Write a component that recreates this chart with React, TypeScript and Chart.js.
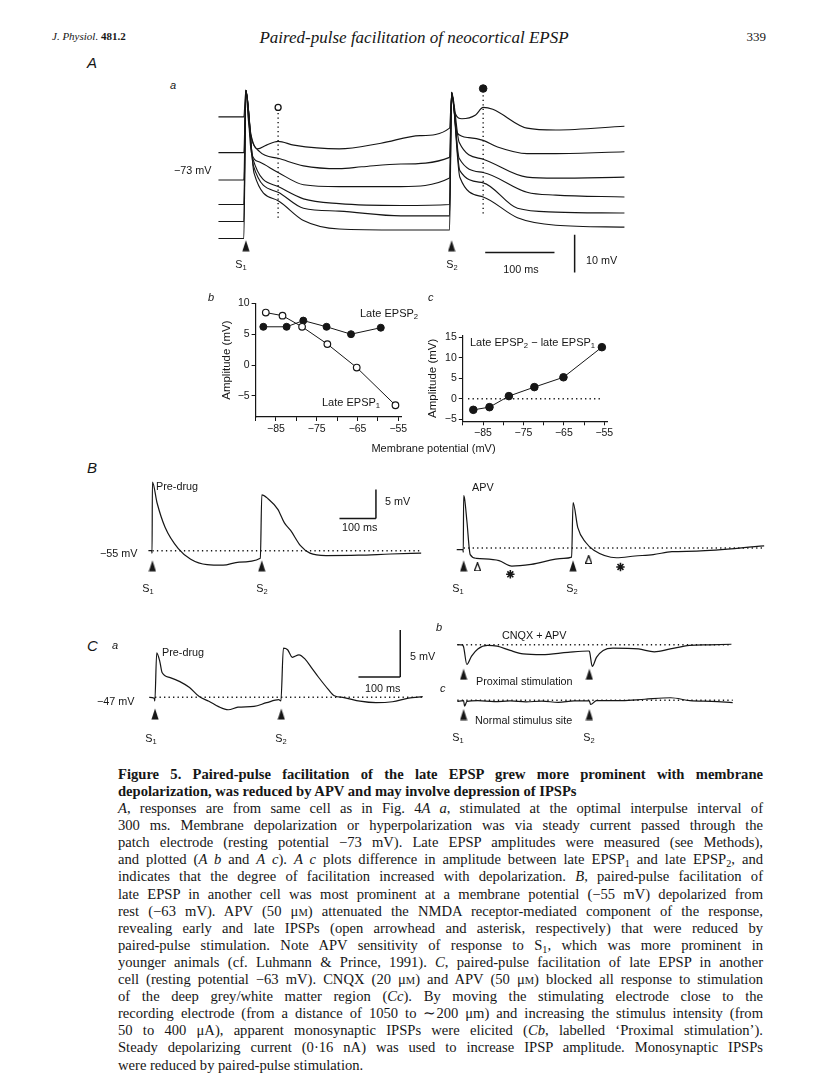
import React, { useEffect, useRef } from "react";
import { Chart, registerables } from "chart.js";
Chart.register(...registerables);

const INK = "#161616";
const SANS = "'Liberation Sans', Arial, Helvetica, sans-serif";
const SERIF = "'Liberation Serif', 'Times New Roman', serif";

type P = [number, number];

// ---------- Panel A a : six traces, time (ms from S1) vs relative potential (mV) ----------
const traceA1: P[] = [[-40, 43], [-3, 43], [0, 50], [4, 41.5], [17, 34.5], [30, 35.5], [47, 36.5], [70, 35.5], [136, 34.5], [197, 36], [254, 38], [297, 40], [300, 48.5], [305, 44], [315, 42.5], [335, 43.5], [346, 45.5], [360, 45], [410, 40], [452, 39.5], [552, 40.5]];
const traceA2: P[] = [[-40, 33.5], [-3, 33.5], [0, 50], [7, 38.75], [20, 33.75], [47, 32], [84, 30], [136, 29.25], [169, 29.75], [226, 30.5], [297, 32.25], [300, 49.25], [308, 38.75], [325, 37.5], [346, 36.75], [367, 35], [410, 33.25], [452, 33.25], [552, 33.75]];
const traceA3: P[] = [[-40, 26.25], [-3, 26.25], [0, 50], [8, 33.5], [20, 31], [47, 28.25], [84, 25], [136, 24.5], [226, 24.5], [297, 26.75], [300, 49.5], [311, 36.25], [346, 31.75], [410, 27], [452, 26.75], [552, 27]];
const traceA4: P[] = [[-40, 19.75], [-3, 19.75], [0, 50], [10, 32], [47, 24.5], [84, 21.25], [136, 20], [226, 19.5], [297, 19.75], [300, 49.5], [311, 32], [346, 28.25], [410, 23], [452, 22.25], [552, 21.75]];
const traceA5: P[] = [[-40, 15.25], [-3, 15.25], [0, 50], [11, 30], [47, 23], [84, 18.75], [136, 18], [226, 16.75], [297, 16.75], [300, 49.5], [312, 28.75], [346, 25.5], [396, 18.75], [452, 17.75], [552, 17.5]];
const traceA6: P[] = [[-40, 10.75], [-3, 10.75], [0, 50], [12, 28], [47, 20.75], [84, 15.5], [136, 13.25], [226, 13], [297, 13], [300, 49.5], [312, 27], [346, 21.75], [396, 16.25], [452, 14.25], [552, 13.75]];
const lateEPSP1Time = 47;
const lateEPSP2Time = 346;
const stimulusTimes = [0, 300];

// ---------- Panel A b ----------
const membraneEPSP1 = [-87.5, -83.4, -78.6, -72.4, -65.2, -55.7];
const lateEPSP1 = [8.5, 8.0, 6.2, 3.4, -0.4, -6.5];
const membraneEPSP2 = [-88.1, -82.4, -78.3, -72.6, -66.6, -59.3];
const lateEPSP2 = [6.2, 6.2, 7.2, 6.2, 5.0, 6.05];
// ---------- Panel A c ----------
const membraneDiff = [-87.4, -83.4, -78.6, -72.3, -65.1, -55.6];
const diffEPSP = [-2.7, -2.05, 0.65, 2.85, 5.25, 12.6];
const potentialTicks = [-90, -85, -80, -75, -70, -65, -60, -55];
const potentialLabels = [-85, -75, -65, -55];
const abTicks = [-5, 0, 5, 10];
const acTicks = [-5, 0, 5, 10, 15];

// ---------- Panel B (mV, ms from S1) ----------
const predrugB: P[] = [[-11, -55], [-2, -55], [-1, -55.45], [0, -43.06], [13, -46.74], [35, -50.96], [71, -54.64], [105, -56.48], [150, -57.43], [194, -57.53], [238, -57.0], [296, -56.33], [300, -45.27], [317, -45.95], [344, -47.8], [362, -50.17], [379, -51.48], [406, -54.12], [432, -55.43], [476, -55.85], [565, -55.79], [653, -55.58], [737, -55.43]];
const apvB: P[] = [[-19, -55.3], [-2, -55.3], [-1, -55.75], [0, -45.9], [3, -46.6], [9, -50.4], [18, -56.15], [35, -56.8], [97, -57.2], [132, -58.15], [185, -57.85], [274, -56.8], [296, -56.6], [300, -47.1], [313, -51.45], [335, -54.05], [357, -55.4], [419, -56.7], [470, -56.4], [520, -56.15], [571, -55.65], [639, -55.55], [824, -54.65]];
const earlyIPSPTimes = [38, 343];
const lateIPSPTimes = [128, 430];

// ---------- Panel C ----------
const predrugC: P[] = [[-14, -47], [-2, -47.1], [-0.5, -47.4], [4, -42.26], [11.5, -43.22], [16.7, -44.36], [36, -44.9], [59, -45.33], [82, -45.96], [105, -46.93], [128, -47.42], [151, -48.0], [174, -48.33], [197, -48.06], [235, -47.97], [265, -47.58], [294, -47.26], [299, -47.4], [305, -41.77], [315, -41.94], [326, -42.74], [342, -42.48], [357, -42.96], [372, -43.87], [388, -44.84], [411, -46.13], [426, -46.84], [449, -47.03], [487, -47.42], [525, -47.58], [564, -47.48], [602, -47.1], [636, -46.93]];
const proximalC: P[] = [[-15, 0.03], [-3, -0.02], [0, -0.26], [7.8, -2.27], [19, -1.3], [34, -0.48], [57, -0.07], [80, -0.16], [111, -0.65], [142, -1.04], [187, -1.13], [249, -0.87], [298, -0.72], [300, -0.75], [307, -2.49], [317, -1.45], [333, -0.65], [356, -0.39], [417, -0.48], [455, -0.81], [493, -0.48], [539, -0.07], [585, 0], [639, 0.06]];
const normalC: P[] = [[-15, -0.15], [0, -0.06], [2.3, -0.8], [8, -0.15], [34, -0.06], [73, -0.19], [111, -0.1], [149, -0.22], [187, -0.13], [226, -0.29], [264, -0.1], [300, -0.1], [303, -0.58], [317, -0.06], [378, -0.06], [432, 0.13], [494, 0.33], [540, -0.06], [592, -0.15], [642, -0.32]];

// ---------- helpers ----------
const toXY = (arr: P[]) => arr.map(([x, y]) => ({ x, y }));
const fmt = (v: number) => (v < 0 ? "\u2212" + Math.abs(v) : String(v));

const arrowCache: Record<string, HTMLCanvasElement> = {};
function arrowImage(kind: "filled" | "open"): HTMLCanvasElement {
  if (arrowCache[kind]) return arrowCache[kind];
  const c = document.createElement("canvas");
  const w = kind === "filled" ? 8 : 7;
  const h = kind === "filled" ? 12 : 9;
  c.width = w;
  c.height = h;
  const g = c.getContext("2d")!;
  g.beginPath();
  g.moveTo(w / 2, 0.4);
  g.lineTo(w - 0.4, h - 0.4);
  g.lineTo(0.4, h - 0.4);
  g.closePath();
  if (kind === "filled") {
    g.fillStyle = INK;
    g.fill();
  } else {
    g.fillStyle = "#fff";
    g.fill();
    g.strokeStyle = INK;
    g.lineWidth = 1.3;
    g.stroke();
  }
  arrowCache[kind] = c;
  return c;
}

const traceDS = (arr: P[], width = 1.15) => ({ data: toXY(arr), borderColor: INK, borderWidth: width, pointRadius: 0, fill: false, cubicInterpolationMode: "monotone" });
const dottedDS = (arr: P[]) => ({ data: toXY(arr), borderColor: INK, borderWidth: 1.4, borderDash: [1.3, 3.2], pointRadius: 0, fill: false });
const barDS = (arr: P[]) => ({ data: toXY(arr), borderColor: INK, borderWidth: 1.5, pointRadius: 0, fill: false });
const markerDS = (arr: P[], style: any, radius: number, fillColor = INK, bw = 1) => ({
  data: toXY(arr), showLine: false, pointStyle: style, pointRadius: radius,
  pointBackgroundColor: fillColor, pointBorderColor: INK, pointBorderWidth: bw,
});

type TraceProps = { left: number; top: number; width: number; height: number; x: [number, number]; y: [number, number]; build: () => any[] };

function TraceChart({ left, top, width, height, x, y, build }: TraceProps) {
  const ref = useRef<HTMLCanvasElement>(null);
  useEffect(() => {
    const chart = new Chart(ref.current!, {
      type: "line",
      data: { datasets: build() },
      options: {
        animation: false,
        responsive: false,
        devicePixelRatio: 1,
        events: [],
        layout: { padding: 0 },
        plugins: { legend: { display: false }, tooltip: { enabled: false } },
        scales: {
          x: { type: "linear", display: false, min: x[0], max: x[1] },
          y: { type: "linear", display: false, min: y[0], max: y[1] },
        },
      } as any,
    });
    return () => chart.destroy();
  }, []);
  return <canvas ref={ref} width={width} height={height} style={{ position: "absolute", left, top }} />;
}

type PlotProps = {
  left: number; top: number; width: number; height: number;
  padTop: number; padRight: number; yWidth: number; xHeight: number;
  x: [number, number]; y: [number, number]; yTicks: number[]; build: () => any[];
};

function PlotChart(p: PlotProps) {
  const ref = useRef<HTMLCanvasElement>(null);
  useEffect(() => {
    const tickFont = { family: SANS, size: 10.5 };
    const chart = new Chart(ref.current!, {
      type: "scatter",
      data: { datasets: p.build() },
      options: {
        animation: false,
        responsive: false,
        devicePixelRatio: 1,
        events: [],
        layout: { padding: { top: p.padTop, right: p.padRight, left: 0, bottom: 0 } },
        plugins: { legend: { display: false }, tooltip: { enabled: false } },
        scales: {
          x: {
            type: "linear", min: p.x[0], max: p.x[1],
            afterBuildTicks: (s: any) => { s.ticks = potentialTicks.map((value) => ({ value })); },
            afterFit: (s: any) => { s.height = p.xHeight; s.paddingLeft = 0; s.paddingRight = 0; },
            ticks: { autoSkip: false, maxRotation: 0, padding: 2, color: INK, font: tickFont,
              callback: (v: any) => (potentialLabels.includes(Number(v)) ? fmt(Number(v)) : "") },
            grid: { display: true, drawOnChartArea: false, drawTicks: true, tickLength: 4, color: INK, lineWidth: 1 },
            border: { display: true, color: INK, width: 1.2 },
          },
          y: {
            type: "linear", min: p.y[0], max: p.y[1],
            afterBuildTicks: (s: any) => { s.ticks = p.yTicks.map((value) => ({ value })); },
            afterFit: (s: any) => { s.width = p.yWidth; s.paddingTop = 0; s.paddingBottom = 0; },
            ticks: { autoSkip: false, padding: 2, color: INK, font: tickFont, callback: (v: any) => fmt(Number(v)) },
            grid: { display: true, drawOnChartArea: false, drawTicks: true, tickLength: 4, color: INK, lineWidth: 1 },
            border: { display: true, color: INK, width: 1.2 },
            title: { display: true, text: "Amplitude (mV)", color: INK, font: { family: SANS, size: 11.5 }, padding: 0 },
          },
        },
      } as any,
    });
    return () => chart.destroy();
  }, []);
  return <canvas ref={ref} width={p.width} height={p.height} style={{ position: "absolute", left: p.left, top: p.top }} />;
}

const Sub = ({ children }: { children: React.ReactNode }) => (
  <span style={{ fontSize: "0.7em", verticalAlign: "-0.3em", lineHeight: 0 }}>{children}</span>
);

type LabelProps = { x: number; y: number; size?: number; italic?: boolean; bold?: boolean; family?: string; anchor?: "left" | "center" | "right"; children: React.ReactNode };
function Label({ x, y, size = 10.8, italic, bold, family = SANS, anchor = "left", children }: LabelProps) {
  const tx = anchor === "center" ? "-50%" : anchor === "right" ? "-100%" : "0";
  return (
    <div style={{ position: "absolute", left: x, top: y, transform: `translate(${tx}, -50%)`, fontFamily: family, fontSize: size,
      fontStyle: italic ? "italic" : "normal", fontWeight: bold ? "bold" : "normal", lineHeight: 1, whiteSpace: "nowrap", color: INK }}>
      {children}
    </div>
  );
}

const S = ({ x, y, n }: { x: number; y: number; n: number }) => (
  <Label x={x} y={y} anchor="center">S<Sub>{n}</Sub></Label>
);

const uM = <>{"\u03bc"}<span style={{ fontSize: "0.72em" }}>M</span></>;

const captionLines: React.ReactNode[] = [
  <><i>A</i>, responses are from same cell as in Fig. 4<i>A a</i>, stimulated at the optimal interpulse interval of</>,
  <>300 ms. Membrane depolarization or hyperpolarization was via steady current passed through the</>,
  <>patch electrode (resting potential {"\u2212"}73 mV). Late EPSP amplitudes were measured (see Methods),</>,
  <>and plotted (<i>A b</i> and <i>A c</i>). <i>A c</i> plots difference in amplitude between late EPSP<Sub>1</Sub> and late EPSP<Sub>2</Sub>, and</>,
  <>indicates that the degree of facilitation increased with depolarization. <i>B</i>, paired-pulse facilitation of</>,
  <>late EPSP in another cell was most prominent at a membrane potential ({"\u2212"}55 mV) depolarized from</>,
  <>rest ({"\u2212"}63 mV). APV (50 {uM}) attenuated the NMDA receptor-mediated component of the response,</>,
  <>revealing early and late IPSPs (open arrowhead and asterisk, respectively) that were reduced by</>,
  <>paired-pulse stimulation. Note APV sensitivity of response to S<Sub>1</Sub>, which was more prominent in</>,
  <>younger animals (cf. Luhmann &amp; Prince, 1991). <i>C</i>, paired-pulse facilitation of late EPSP in another</>,
  <>cell (resting potential {"\u2212"}63 mV). CNQX (20 {uM}) and APV (50 {uM}) blocked all response to stimulation</>,
  <>of the deep grey/white matter region (<i>Cc</i>). By moving the stimulating electrode close to the</>,
  <>recording electrode (from a distance of 1050 to {"\u223c"}200 {"\u03bc"}m) and increasing the stimulus intensity (from</>,
  <>50 to 400 {"\u03bc"}A), apparent monosynaptic IPSPs were elicited (<i>Cb</i>, labelled {"\u2018"}Proximal stimulation{"\u2019"}).</>,
  <>Steady depolarizing current (0{"\u00b7"}16 nA) was used to increase IPSP amplitude. Monosynaptic IPSPs</>,
  <>were reduced by paired-pulse stimulation.</>,
];

function CaptionLine({ y, bold, last, children }: { y: number; bold?: boolean; last?: boolean; children: React.ReactNode }) {
  return (
    <div style={{ position: "absolute", left: 118, top: y - 10, width: 645, fontFamily: SERIF, fontSize: 14.6, lineHeight: "17px",
      fontWeight: bold ? "bold" : "normal", textAlign: "justify", textAlignLast: last ? "left" : "justify", color: INK }}>
      {children}
    </div>
  );
}

export default function App() {
  return (
    <div style={{ position: "absolute", left: 0, top: 0, width: 816, height: 1091, background: "#fff", overflow: "hidden" }}>
      {/* running header */}
      <Label x={52} y={36} size={11} family={SERIF}><i>J. Physiol.</i> <b>481.2</b></Label>
      <Label x={414} y={37} size={17} family={SERIF} italic anchor="center">Paired-pulse facilitation of neocortical EPSP</Label>
      <Label x={766} y={36} size={13} family={SERIF} anchor="right">339</Label>

      {/* ---------- A a ---------- */}
      <Label x={87} y={62} size={15} italic>A</Label>
      <Label x={170} y={85} size={11} italic>a</Label>
      <TraceChart left={200} top={75} width={440} height={210} x={[-58.16, 565.96]} y={[0, 52.5]}
        build={() => [
          ...[traceA1, traceA2, traceA3, traceA4, traceA5, traceA6].map((t) => traceDS(t)),
          dottedDS([[lateEPSP1Time, 44], [lateEPSP1Time, 15.5]]),
          dottedDS([[lateEPSP2Time, 48.75], [lateEPSP2Time, 16.75]]),
          markerDS([[lateEPSP1Time, 45.5]], "circle", 3, "#fff", 1.3),
          markerDS([[lateEPSP2Time, 50.5]], "circle", 3.8, INK),
          markerDS(stimulusTimes.map((t) => [t, 8.8] as P), arrowImage("filled"), 5),
          barDS([[349, 7], [450, 7]]),
          barDS([[479.4, 11.75], [479.4, 1.75]]),
        ]} />
      <Label x={174} y={170}>{"\u2212"}73 mV</Label>
      <S x={241} y={264} n={1} />
      <S x={452} y={264} n={2} />
      <Label x={521} y={269} anchor="center">100 ms</Label>
      <Label x={586} y={260}>10 mV</Label>

      {/* ---------- A b / A c ---------- */}
      <Label x={208} y={297} size={11} italic>b</Label>
      <Label x={428} y={297} size={11} italic>c</Label>
      <PlotChart left={220} top={293} width={193} height={152} padTop={10.3} padRight={12} yWidth={35.6} xHeight={28}
        x={[-90, -54.34]} y={[-8.4, 10]} yTicks={abTicks}
        build={() => [
          { data: membraneEPSP1.map((x, i) => ({ x, y: lateEPSP1[i] })), showLine: true, borderColor: INK, borderWidth: 1,
            pointStyle: "circle", pointRadius: 3.3, pointBackgroundColor: "#fff", pointBorderColor: INK, pointBorderWidth: 1.2, order: 0 },
          { data: membraneEPSP2.map((x, i) => ({ x, y: lateEPSP2[i] })), showLine: true, borderColor: INK, borderWidth: 1,
            pointStyle: "circle", pointRadius: 3.5, pointBackgroundColor: INK, pointBorderColor: INK, pointBorderWidth: 1, order: 1 },
        ]} />
      <Label x={360} y={313} size={11}>Late EPSP<Sub>2</Sub></Label>
      <Label x={322} y={402} size={11}>Late EPSP<Sub>1</Sub></Label>
      <PlotChart left={426} top={325} width={193} height={124} padTop={10.3} padRight={12} yWidth={36.8} xHeight={27.7}
        x={[-90, -54.33]} y={[-5.5, 15.5]} yTicks={acTicks}
        build={() => [
          { data: membraneDiff.map((x, i) => ({ x, y: diffEPSP[i] })), showLine: true, borderColor: INK, borderWidth: 1,
            pointStyle: "circle", pointRadius: 3.8, pointBackgroundColor: INK, pointBorderColor: INK, pointBorderWidth: 1, order: 0 },
          { data: [{ x: -88.7, y: 0 }, { x: -55.5, y: 0 }], showLine: true, borderColor: INK, borderWidth: 1.4,
            borderDash: [1.3, 3.2], pointRadius: 0, order: 1 },
        ]} />
      <Label x={470} y={342} size={11}>Late EPSP<Sub>2</Sub> {"\u2212"} late EPSP<Sub>1</Sub></Label>
      <Label x={433.5} y={448} size={11} anchor="center">Membrane potential (mV)</Label>

      {/* ---------- B ---------- */}
      <Label x={87} y={467} size={15} italic>B</Label>
      <TraceChart left={95} top={470} width={340} height={130} x={[-141, 758.5]} y={[-62.54, -42.0]}
        build={() => [
          traceDS(predrugB, 1.2),
          dottedDS([[0, -55], [732, -55]]),
          markerDS(stimulusTimes.map((t) => [t, -57.64] as P), arrowImage("filled"), 5),
          barDS([[613, -44.37], [613, -49.38]]),
          barDS([[513, -49.38], [613, -49.38]]),
        ]} />
      <Label x={156} y={486}>Pre-drug</Label>
      <Label x={385} y={501}>5 mV</Label>
      <Label x={342} y={527}>100 ms</Label>
      <Label x={100} y={553}>{"\u2212"}55 mV</Label>
      <S x={148} y={588} n={1} />
      <S x={262} y={588} n={2} />
      <TraceChart left={440} top={470} width={340} height={130} x={[-48.4, 851]} y={[-63.01, -42.47]}
        build={() => [
          traceDS(apvB, 1.2),
          dottedDS([[0, -55], [825, -55]]),
          markerDS(stimulusTimes.map((t) => [t, -58.11] as P), arrowImage("filled"), 5),
          markerDS([[earlyIPSPTimes[0], -58.27], [earlyIPSPTimes[1], -57.0]], arrowImage("open"), 5),
          markerDS([[lateIPSPTimes[0], -59.58], [lateIPSPTimes[1], -58.3]], "star", 4.2, INK, 1.6),
        ]} />
      <Label x={472} y={487}>APV</Label>
      <S x={458} y={588} n={1} />
      <S x={572} y={588} n={2} />

      {/* ---------- C ---------- */}
      <Label x={87} y={645} size={15} italic>C</Label>
      <Label x={112} y={645} size={11} italic>a</Label>
      <TraceChart left={95} top={615} width={345} height={130} x={[-128.4, 662.8]} y={[-51.45, -38.87]}
        build={() => [
          traceDS(predrugC, 1.2),
          dottedDS([[0, -47], [635, -47]]),
          markerDS(stimulusTimes.map((t) => [t, -48.79] as P), arrowImage("filled"), 5),
          barDS([[582.6, -39.84], [582.6, -44.84]]),
          barDS([[483.3, -44.84], [582.6, -44.84]]),
        ]} />
      <Label x={162} y={652}>Pre-drug</Label>
      <Label x={410} y={656}>5 mV</Label>
      <Label x={365} y={688}>100 ms</Label>
      <Label x={97} y={701}>{"\u2212"}47 mV</Label>
      <S x={151} y={738} n={1} />
      <S x={281} y={738} n={2} />

      <Label x={436} y={627} size={11} italic>b</Label>
      <TraceChart left={440} top={615} width={310} height={75} x={[-42, 669]} y={[-4.52, 2.74]}
        build={() => [
          traceDS(proximalC, 1.2),
          dottedDS([[-15, 0], [639, 0]]),
          markerDS(stimulusTimes.map((t) => [t, -3.39] as P), arrowImage("filled"), 5),
        ]} />
      <Label x={502} y={635}>CNQX + APV</Label>
      <Label x={476} y={681}>Proximal stimulation</Label>

      <Label x={440} y={688} size={11} italic>c</Label>
      <TraceChart left={440} top={688} width={310} height={42} x={[-42, 669]} y={[-3.22, 0.84]}
        build={() => [
          traceDS(normalC, 1.2),
          dottedDS([[-15, 0], [642, 0]]),
          markerDS(stimulusTimes.map((t) => [t, -1.94] as P), arrowImage("filled"), 5),
        ]} />
      <Label x={475} y={720}>Normal stimulus site</Label>
      <S x={458} y={737} n={1} />
      <S x={589} y={737} n={2} />

      {/* ---------- caption ---------- */}
      <CaptionLine y={776} bold>Figure 5. Paired-pulse facilitation of the late EPSP grew more prominent with membrane</CaptionLine>
      <CaptionLine y={793} bold last>depolarization, was reduced by APV and may involve depression of IPSPs</CaptionLine>
      {captionLines.map((line, i) => (
        <CaptionLine key={i} y={810 + i * 17.1} last={i === captionLines.length - 1}>{line}</CaptionLine>
      ))}
    </div>
  );
}
